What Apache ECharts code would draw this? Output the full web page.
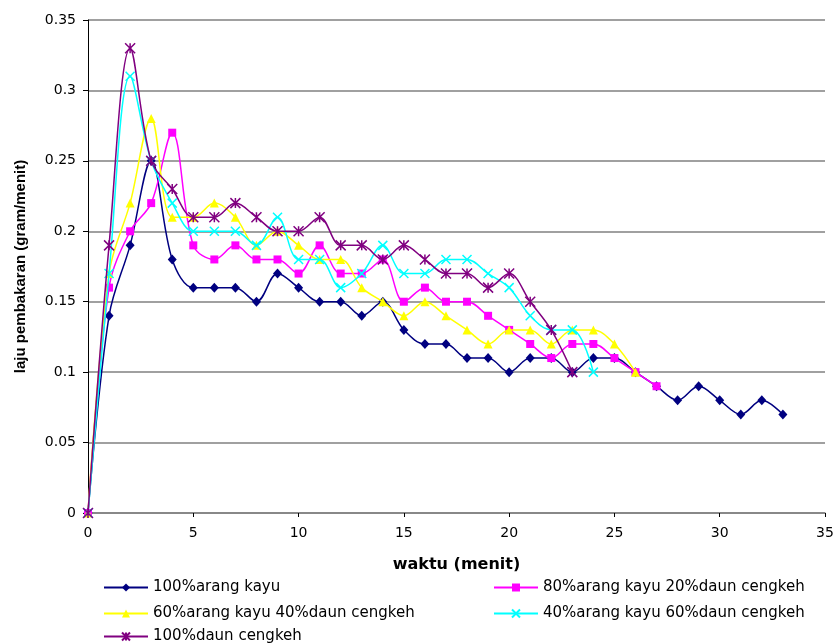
<!DOCTYPE html>
<html>
<head>
<meta charset="utf-8">
<script src="https://cdn.jsdelivr.net/npm/echarts@6/dist/echarts.min.js"></script>
<style>
html,body{margin:0;padding:0;background:#fff;}
#main{width:837px;height:644px;}
</style>
</head>
<body>
<div id="main"></div>
<script>
// data
var seriesNames = ['100%arang kayu', '80%arang kayu 20%daun cengkeh', '60%arang kayu 40%daun cengkeh', '40%arang kayu 60%daun cengkeh', '100%daun cengkeh'];
var arangKayu = [0, 0.14, 0.19, 0.25, 0.18, 0.16, 0.16, 0.16, 0.15, 0.17, 0.16, 0.15, 0.15, 0.14, 0.15, 0.13, 0.12, 0.12, 0.11, 0.11, 0.10, 0.11, 0.11, 0.10, 0.11, 0.11, 0.10, 0.09, 0.08, 0.09, 0.08, 0.07, 0.08, 0.07];
var campur80 = [0, 0.16, 0.20, 0.22, 0.27, 0.19, 0.18, 0.19, 0.18, 0.18, 0.17, 0.19, 0.17, 0.17, 0.18, 0.15, 0.16, 0.15, 0.15, 0.14, 0.13, 0.12, 0.11, 0.12, 0.12, 0.11, 0.10, 0.09];
var campur60 = [0, 0.17, 0.22, 0.28, 0.21, 0.21, 0.22, 0.21, 0.19, 0.20, 0.19, 0.18, 0.18, 0.16, 0.15, 0.14, 0.15, 0.14, 0.13, 0.12, 0.13, 0.13, 0.12, 0.13, 0.13, 0.12, 0.10];
var campur40 = [0, 0.17, 0.31, 0.25, 0.22, 0.20, 0.20, 0.20, 0.19, 0.21, 0.18, 0.18, 0.16, 0.17, 0.19, 0.17, 0.17, 0.18, 0.18, 0.17, 0.16, 0.14, 0.13, 0.13, 0.10];
var daunCengkeh = [0, 0.19, 0.33, 0.25, 0.23, 0.21, 0.21, 0.22, 0.21, 0.20, 0.20, 0.21, 0.19, 0.19, 0.18, 0.19, 0.18, 0.17, 0.17, 0.16, 0.17, 0.15, 0.13, 0.10];

var allValues = [arangKayu, campur80, campur60, campur40, daunCengkeh];
var colors = ['#000080', '#FF00FF', '#FFFF00', '#00FFFF', '#800080'];
var symbols = ['diamond', 'rect', 'triangle',
	'path://M0,0L10,10M10,0L0,10',
	'path://M0,0L10,10M10,0L0,10M5,0L5,10'];
var symbolSizes = [[9, 10], 8, 9, 9, 10];

var fontName = 'Liberation Sans, Arial, sans-serif';
var wideFont = 'DejaVu Sans, Verdana, sans-serif';

function toPoints(arr){
	return arr.map(function(v, i){ return [i, v]; });
}

var series = [];
for (var i = 0; i < allValues.length; i++) {
	var stroked = i >= 3;
	series.push({
		name: seriesNames[i],
		type: 'line',
		smooth: 0.35,
		data: toPoints(allValues[i]),
		symbol: symbols[i],
		symbolSize: symbolSizes[i],
		showAllSymbol: true,
		lineStyle: { color: colors[i], width: 1.5 },
		itemStyle: {
			color: colors[i],
			borderColor: colors[i],
			borderWidth: stroked ? 1.5 : 0
		},
		emphasis: { disabled: true },
		z: 2 + i
	});
}

// legend: two columns
var legendPos = [[98, 575], [488, 575], [98, 601], [488, 601], [98, 624]];
var legends = [];
for (var j = 0; j < seriesNames.length; j++) {
	legends.push({
		data: [seriesNames[j]],
		left: legendPos[j][0],
		top: legendPos[j][1],
		itemWidth: 44,
		itemHeight: 10,
		itemGap: 5,
		textStyle: { fontFamily: wideFont, fontSize: 15, color: '#000', padding: [0, 0, 0, 0] },
		selectedMode: false
	});
}

var chart = echarts.init(document.getElementById('main'));
chart.setOption({
	backgroundColor: '#fff',
	animation: false,
	grid: { left: 88, right: 12, top: 20, bottom: 131, containLabel: false },
	legend: legends,
	xAxis: {
		type: 'value',
		min: 0,
		max: 35,
		interval: 5,
		name: 'waktu (menit)',
		nameLocation: 'middle',
		nameGap: 44,
		nameTextStyle: { fontFamily: wideFont, fontSize: 16, fontWeight: 'bold', color: '#000' },
		axisLine: { show: true, lineStyle: { color: '#808080', width: 1.5 } },
		axisTick: { show: true, inside: false, length: 4, lineStyle: { color: '#000' } },
		axisLabel: { fontFamily: wideFont, fontSize: 14, color: '#000', margin: 13 },
		splitLine: { show: false }
	},
	yAxis: {
		type: 'value',
		min: 0,
		max: 0.35,
		interval: 0.05,
		name: 'laju pembakaran (gram/menit)',
		nameLocation: 'middle',
		nameGap: 60,
		nameTextStyle: { fontFamily: fontName, fontSize: 15, fontWeight: 'bold', color: '#000' },
		axisLine: { show: true, lineStyle: { color: '#000', width: 1 } },
		axisTick: { show: true, inside: false, length: 5, lineStyle: { color: '#000' } },
		axisLabel: { fontFamily: wideFont, fontSize: 14, color: '#000', margin: 12 },
		splitLine: { show: true, lineStyle: { color: '#808080', width: 1.5 } }
	},
	series: series
});
</script>
</body>
</html>
